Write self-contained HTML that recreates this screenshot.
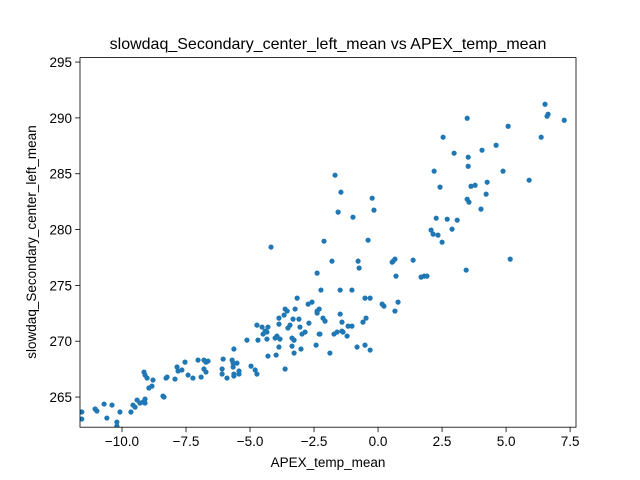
<!DOCTYPE html>
<html><head><meta charset="utf-8"><style>
html,body{margin:0;padding:0;background:#fff;}
svg{display:block;font-family:"Liberation Sans","DejaVu Sans",sans-serif;}
</style></head><body>
<svg id="chart" width="640" height="480" viewBox="0 0 640 480">
<rect width="640" height="480" fill="#fff"/>
<text x="328" y="49" text-anchor="middle" font-size="16">slowdaq_Secondary_center_left_mean vs APEX_temp_mean</text>
<g id="marks"></g>
<g id="axes"></g>
<text x="328" y="467" text-anchor="middle" font-size="13.5">APEX_temp_mean</text>
<text transform="translate(36,242) rotate(-90)" text-anchor="middle" font-size="13.5">slowdaq_Secondary_center_left_mean</text>
</svg>
<script>
const xValues = [-11.57,-11.57,-11.05,-10.98,-10.70,-10.39,-10.59,-10.20,-10.08,-10.2,-9.65,-9.57,-9.49,-9.41,-9.30,-9.18,-9.10,-9.10,-9.14,-9.10,-9.02,-8.79,-8.95,-8.83,-8.40,-8.36,-8.28,-8.24,-7.93,-7.85,-7.81,-7.66,-7.54,-7.42,-7.23,-7.03,-6.91,-6.80,-6.72,-6.64,-6.80,-6.72,-6.05,-6.09,-6.09,-5.90,-5.70,-5.63,-5.66,-5.66,-5.51,-5.63,-5.63,-5.43,-5.43,-5.12,-4.96,-4.80,-4.73,-4.73,-4.69,
-4.18,-2.11,-0.39,-1.80,-0.78,-0.74,-2.38,0.55,0.59,0.66,0.70,-2.23,-1.48,-1.02,-3.16,-2.73,-2.58,-0.51,-0.31,0.16,0.23,0.78,0.66,-3.63,-3.55,-3.24,-2.38,-2.30,-2.38,-3.67,-3.87,-3.32,-3.09,-2.15,-2.07,-1.48,-1.41,-0.47,-0.59,-4.53,-4.30,-3.87,-2.70,-3.44,-3.52,-3.05,-4.41,-4.34,-4.49,-2.85,-2.97,-2.30,-2.27,-1.72,-1.60,-1.41,-1.37,-1.17,-1.02,-1.21,-4.34,-4.02,-3.95,-3.83,-3.36,-3.28,-3.87,-3.36,-3.01,-2.42,-0.82,-0.51,-0.31,-4.30,-3.98,-3.28,-1.88,-3.63,
-1.68,-1.45,-0.23,-0.16,-1.56,-0.98,1.37,
6.52,6.60,6.64,7.27,3.48,5.08,6.37,2.54,4.61,2.97,4.06,3.52,3.52,2.19,4.88,2.42,3.63,3.79,4.26,4.22,5.90,3.48,3.55,4.02,2.27,2.70,3.09,2.07,2.15,2.34,2.89,2.50,5.16,3.44,1.68,1.80,1.91];
const yValues = [263.66,263.03,263.93,263.75,264.37,264.28,263.12,262.76,263.66,262.4,263.66,264.28,264.10,264.73,264.46,264.55,264.82,264.46,267.24,266.97,266.70,266.52,265.81,265.98,265.09,265.00,266.70,266.79,266.61,267.69,267.33,267.42,268.13,266.97,266.70,268.31,266.79,268.31,268.13,268.22,267.51,267.24,268.40,267.51,267.06,266.70,268.31,269.30,268.04,267.69,268.04,266.88,267.06,267.33,267.06,270.10,267.77,267.42,267.06,271.44,270.10,
278.43,278.96,279.05,277.17,277.17,276.55,276.10,277.08,277.17,277.35,275.83,274.58,274.58,274.58,273.86,273.32,273.50,273.86,273.86,273.32,273.14,273.50,272.70,272.88,272.70,272.88,272.70,272.88,272.52,272.34,272.07,271.98,271.98,272.07,271.80,272.43,271.71,272.07,271.71,271.27,271.27,271.53,271.62,271.44,271.18,271.27,270.91,270.82,270.64,270.82,270.64,270.64,270.64,270.64,270.82,270.91,270.82,271.35,271.35,270.46,270.19,270.28,270.46,270.19,270.28,270.10,269.48,269.56,269.30,269.65,269.48,269.65,269.21,268.67,268.76,268.94,268.94,267.51,
284.87,283.35,282.81,281.74,281.56,281.11,277.26,
291.22,290.15,290.33,289.79,289.97,289.25,288.27,288.27,287.55,286.84,287.11,286.48,285.67,285.23,285.23,283.80,283.88,283.97,284.24,283.17,284.42,282.72,282.45,281.83,281.02,280.93,280.84,279.95,279.59,279.50,280.04,278.87,277.35,276.37,275.74,275.83,275.83];
const xTicks = [-10,-7.5,-5,-2.5,0,2.5,5,7.5];
const xTickLabels = ["−10.0","−7.5","−5.0","−2.5","0.0","2.5","5.0","7.5"];
const yTicks = [265,270,275,280,285,290,295];
const yTickLabels = ["265","270","275","280","285","290","295"];
const xDomain = [-11.64, 7.73];
const yDomain = [262.3, 295.4];

const L=80,R=576,T=57.6,B=427.2;
const sx = v => L + (v - xDomain[0]) / (xDomain[1]-xDomain[0]) * (R-L);
const sy = v => B - (v - yDomain[0]) / (yDomain[1]-yDomain[0]) * (B-T);
const NS="http://www.w3.org/2000/svg";
const marks=document.getElementById('marks');
const axes=document.getElementById('axes');
const clip=document.createElementNS(NS,'clipPath');clip.setAttribute('id','pc');
const cr=document.createElementNS(NS,'rect');cr.setAttribute('x',L);cr.setAttribute('y',T);cr.setAttribute('width',R-L);cr.setAttribute('height',B-T);
clip.appendChild(cr);document.getElementById('chart').appendChild(clip);
marks.setAttribute('clip-path','url(#pc)');
for(let i=0;i<xValues.length;i++){
  const c=document.createElementNS(NS,'circle');
  c.setAttribute('cx',sx(xValues[i]));c.setAttribute('cy',sy(yValues[i]));c.setAttribute('r',2.6);
  c.setAttribute('fill','#1f77b4');
  
  
  marks.appendChild(c);
}
const frame=document.createElementNS(NS,'rect');
frame.setAttribute('x',L);frame.setAttribute('y',T);frame.setAttribute('width',R-L);frame.setAttribute('height',B-T);
frame.setAttribute('fill','none');frame.setAttribute('stroke','#000');frame.setAttribute('stroke-width','0.8');


axes.appendChild(frame);
xTicks.forEach((t,i)=>{
  const x=sx(t);
  const l=document.createElementNS(NS,'line');
  l.setAttribute('x1',x);l.setAttribute('x2',x);l.setAttribute('y1',B);l.setAttribute('y2',B+4.9);l.setAttribute('stroke','#000');l.setAttribute('stroke-width','0.8');
  
  
  axes.appendChild(l);
  const tx=document.createElementNS(NS,'text');
  tx.setAttribute('x',x);tx.setAttribute('y',B+19);tx.setAttribute('text-anchor','middle');tx.setAttribute('font-size','13.5');
  tx.textContent=xTickLabels[i];
  
  
  axes.appendChild(tx);
});
yTicks.forEach((t,i)=>{
  const y=sy(t);
  const l=document.createElementNS(NS,'line');
  l.setAttribute('x1',L-4.9);l.setAttribute('x2',L);l.setAttribute('y1',y);l.setAttribute('y2',y);l.setAttribute('stroke','#000');l.setAttribute('stroke-width','0.8');
  
  
  axes.appendChild(l);
  const tx=document.createElementNS(NS,'text');
  tx.setAttribute('x',L-8);tx.setAttribute('y',y+5);tx.setAttribute('text-anchor','end');tx.setAttribute('font-size','13.5');
  tx.textContent=yTickLabels[i];
  
  
  axes.appendChild(tx);
});
</script>
</body></html>
